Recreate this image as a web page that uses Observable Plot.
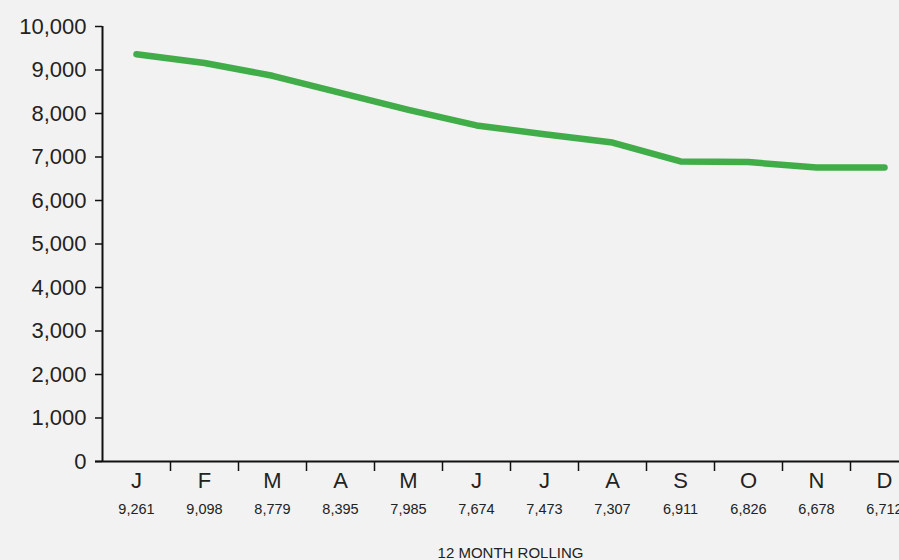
<!DOCTYPE html>
<html>
<head>
<meta charset="utf-8">
<script src="https://cdn.jsdelivr.net/npm/d3@7"></script>
<script src="https://cdn.jsdelivr.net/npm/@observablehq/plot@0.6"></script>
<style>
  html, body { margin: 0; padding: 0; background: #f2f2f2; }
  #chart svg { display: block; }
</style>
</head>
<body>
<div id="chart"></div>
<script>
const months = ["J", "F", "M", "A", "M", "J", "J", "A", "S", "O", "N", "D"];
const rollingValues = [9261, 9098, 8779, 8395, 7985, 7674, 7473, 7307, 6911, 6826, 6678, 6712];
const lineValues = [9363, 9161, 8867, 8474, 8085, 7726, 7524, 7333, 6897, 6883, 6759, 6759];
const yTicks = d3.range(0, 10001, 1000);
const caption = "12 MONTH ROLLING";

const data = months.map((m, i) => ({ i, month: m, value: lineValues[i], rolling: rollingValues[i] }));
const bandEdges = d3.range(0.5, months.length - 0.5, 1);
const font = "'Liberation Sans', Arial, Helvetica, sans-serif";

const chart = Plot.plot({
  width: 899,
  height: 560,
  marginLeft: 102,
  marginRight: 0,
  marginTop: 26,
  marginBottom: 99,
  style: { background: "#f2f2f2", fontFamily: font, color: "#222", overflow: "visible" },
  x: { type: "linear", domain: [-0.5, months.length - 0.5], range: [102, 918], axis: null },
  y: { domain: [0, 10000], range: [461, 26], axis: null },
  marks: [
    Plot.axisY({
      ticks: yTicks,
      tickFormat: d3.format(","),
      tickSize: 7,
      tickPadding: 9,
      fontSize: 22,
      stroke: "#111",
      strokeWidth: 1.5,
      fill: "#222",
      label: null
    }),
    Plot.axisX({
      ticks: bandEdges,
      tickFormat: () => "",
      tickSize: 10,
      stroke: "#111",
      strokeWidth: 1.5,
      label: null
    }),
    Plot.ruleX([-0.5], { stroke: "#111", strokeWidth: 2 }),
    Plot.ruleY([0], { stroke: "#111", strokeWidth: 2, insetLeft: -7 }),
    Plot.line(data, {
      x: "i",
      y: "value",
      stroke: "#40ad49",
      strokeWidth: 6.5,
      strokeLinecap: "round",
      strokeLinejoin: "round"
    }),
    Plot.text(data, {
      x: "i",
      y: () => 0,
      text: "month",
      dy: 19,
      fontSize: 22,
      fill: "#222",
      lineAnchor: "middle"
    }),
    Plot.text(data, {
      x: "i",
      y: () => 0,
      text: d => d3.format(",")(d.rolling),
      dy: 47.5,
      fontSize: 14.5,
      fill: "#222",
      lineAnchor: "middle"
    }),
    Plot.text([caption], {
      x: () => (months.length - 1) / 2,
      y: () => 0,
      text: d => d,
      dy: 92,
      fontSize: 15,
      fill: "#222",
      lineAnchor: "middle"
    })
  ]
});
document.getElementById("chart").appendChild(chart);
</script>
</body>
</html>
